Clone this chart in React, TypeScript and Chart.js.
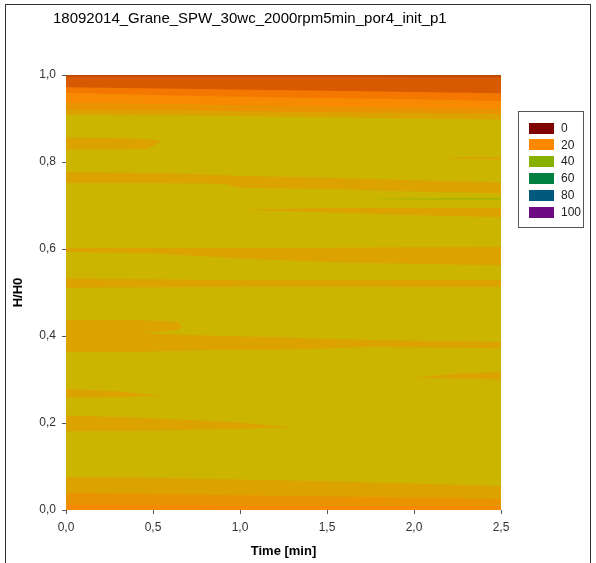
import React, { useEffect, useRef } from 'react';
import { Chart, registerables } from 'chart.js';

Chart.register(...registerables);

// ---------- text ----------
const TITLE = '18092014_Grane_SPW_30wc_2000rpm5min_por4_init_p1';
const X_LABEL = 'Time [min]';
const Y_LABEL = 'H/H0';
const LEGEND_LABELS = ['0', '20', '40', '60', '80', '100'];
const LEGEND_COLORS = ['#800000', '#FF8800', '#88B000', '#008040', '#005A80', '#6E0A82'];

// ---------- colours of the contour levels ----------
const C_BASE = '#CBB500';
const C_AMBER = '#DCA200';
const C_ORANGE3 = '#EA9300';
const C_ORANGE2 = '#F78A00';
const C_ORANGE1 = '#F47800';
const C_DARK = '#D85A00';
const C_TOPLINE = '#C24A00';
const C_GREEN = '#A8B400';

// ---------- axis ranges ----------
const X_MIN = 0;
const X_MAX = 2.5;
const X_STEP = 0.5;
const Y_MIN = 0;
const Y_MAX = 1;
const Y_STEP = 0.2;

// ---------- top layers (filled up to H/H0 = 1) ----------
const TOP_T = [0, 0.75, 1.5, 2.0, 2.5];
const TOP_AMBER = [0.908, 0.907, 0.903, 0.9, 0.897];
const TOP_ORANGE3 = [0.92, 0.918, 0.915, 0.913, 0.911];
const TOP_ORANGE2 = [0.936, 0.933, 0.927, 0.925, 0.922];
const TOP_ORANGE1 = [0.959, 0.952, 0.947, 0.944, 0.94];
const TOP_DARK = [0.972, 0.968, 0.964, 0.961, 0.958];
const TOP_LINE = [0.996, 0.996, 0.996, 0.995, 0.995];

// ---------- bottom layers (filled down to 0) ----------
const BOT_T = [0, 0.5, 1.0, 1.5, 2.0, 2.5];
const BOT_AMBER = [0.076, 0.074, 0.07, 0.066, 0.061, 0.055];
const BOT_ORANGE3 = [0.039, 0.037, 0.034, 0.031, 0.029, 0.026];
const BOT_ORANGE2 = [0.012, 0.011, 0.01, 0.009, 0.009, 0.008];

// ---------- inner bands (lower / upper edge) ----------
const BAND_A_T = [0, 0.3, 0.47, 0.55];
const BAND_A_LO = [0.828, 0.829, 0.83, 0.848];
const BAND_A_HI = [0.856, 0.855, 0.853, 0.848];

const BAND_B_T = [0, 0.5, 0.9, 1.0, 1.5, 2.0, 2.5];
const BAND_B_LO = [0.752, 0.752, 0.75, 0.741, 0.738, 0.732, 0.728];
const BAND_B_HI = [0.777, 0.775, 0.77, 0.768, 0.764, 0.758, 0.753];

const BAND_C_T = [2.15, 2.3, 2.5];
const BAND_C_LO = [0.809, 0.807, 0.806];
const BAND_C_HI = [0.809, 0.811, 0.811];

const BAND_D_T = [1.0, 1.5, 2.0, 2.5];
const BAND_D_LO = [0.691, 0.684, 0.678, 0.673];
const BAND_D_HI = [0.691, 0.694, 0.695, 0.695];

const GREEN_T = [1.7, 2.1, 2.5];
const GREEN_LO = [0.715, 0.713, 0.713];
const GREEN_HI = [0.715, 0.717, 0.718];

const BAND_E_T = [0, 0.5, 1.0, 1.5, 2.0, 2.5];
const BAND_E_LO = [0.593, 0.59, 0.578, 0.57, 0.566, 0.562];
const BAND_E_HI = [0.602, 0.603, 0.603, 0.603, 0.604, 0.605];

const BAND_F_T = [0, 1.0, 2.5];
const BAND_F_LO = [0.511, 0.513, 0.513];
const BAND_F_HI = [0.533, 0.528, 0.529];

const BAND_G1_T = [0, 0.44, 0.64, 0.67];
const BAND_G1_LO = [0.407, 0.407, 0.414, 0.421];
const BAND_G1_HI = [0.437, 0.436, 0.432, 0.421];

const BAND_G2_T = [0, 0.44, 0.8, 1.2, 1.75, 2.5];
const BAND_G2_LO = [0.363, 0.364, 0.368, 0.368, 0.375, 0.372];
const BAND_G2_HI = [0.407, 0.407, 0.401, 0.397, 0.391, 0.386];

const BAND_H_T = [0, 0.3, 0.56];
const BAND_H_LO = [0.258, 0.259, 0.262];
const BAND_H_HI = [0.278, 0.273, 0.262];

const BAND_I_T = [0, 0.5, 1.0, 1.3];
const BAND_I_LO = [0.181, 0.183, 0.186, 0.19];
const BAND_I_HI = [0.217, 0.211, 0.201, 0.19];

const BAND_J_T = [2.0, 2.25, 2.5];
const BAND_J_LO = [0.305, 0.302, 0.3];
const BAND_J_HI = [0.305, 0.313, 0.318];

// ---------- helpers ----------
const pts = (t: number[], v: number[]) => t.map((x, i) => ({ x, y: v[i] }));
const fmt = (v: number) => v.toFixed(1).replace('.', ',');

const hidden = {
  borderWidth: 0,
  borderColor: 'rgba(0,0,0,0)',
  pointRadius: 0,
  pointHoverRadius: 0,
  tension: 0,
};

function buildDatasets() {
  const ds: any[] = [];
  // base level covering the whole area
  ds.push({ ...hidden, data: pts([X_MIN, X_MAX], [Y_MAX, Y_MAX]), fill: 'origin', backgroundColor: C_BASE, order: 100 });

  const tops: [number[], string][] = [
    [TOP_AMBER, C_AMBER],
    [TOP_ORANGE3, C_ORANGE3],
    [TOP_ORANGE2, C_ORANGE2],
    [TOP_ORANGE1, C_ORANGE1],
    [TOP_DARK, C_DARK],
    [TOP_LINE, C_TOPLINE],
  ];
  tops.forEach(([v, c], i) => {
    ds.push({ ...hidden, data: pts(TOP_T, v), fill: { value: Y_MAX }, backgroundColor: c, order: 90 - i });
  });

  const bots: [number[], string][] = [
    [BOT_AMBER, C_AMBER],
    [BOT_ORANGE3, C_ORANGE3],
    [BOT_ORANGE2, C_ORANGE2],
  ];
  bots.forEach(([v, c], i) => {
    ds.push({ ...hidden, data: pts(BOT_T, v), fill: 'origin', backgroundColor: c, order: 70 - i });
  });

  const bands: [number[], number[], number[], string][] = [
    [BAND_A_T, BAND_A_LO, BAND_A_HI, C_AMBER],
    [BAND_B_T, BAND_B_LO, BAND_B_HI, C_AMBER],
    [BAND_C_T, BAND_C_LO, BAND_C_HI, C_AMBER],
    [BAND_D_T, BAND_D_LO, BAND_D_HI, C_AMBER],
    [GREEN_T, GREEN_LO, GREEN_HI, C_GREEN],
    [BAND_E_T, BAND_E_LO, BAND_E_HI, C_AMBER],
    [BAND_F_T, BAND_F_LO, BAND_F_HI, C_AMBER],
    [BAND_G1_T, BAND_G1_LO, BAND_G1_HI, C_AMBER],
    [BAND_G2_T, BAND_G2_LO, BAND_G2_HI, C_AMBER],
    [BAND_H_T, BAND_H_LO, BAND_H_HI, C_AMBER],
    [BAND_I_T, BAND_I_LO, BAND_I_HI, C_AMBER],
    [BAND_J_T, BAND_J_LO, BAND_J_HI, C_AMBER],
  ];
  bands.forEach(([t, lo, hi, c]) => {
    ds.push({ ...hidden, data: pts(t, lo), fill: false, order: 10 });
    ds.push({ ...hidden, data: pts(t, hi), fill: '-1', backgroundColor: c, order: 10 });
  });
  return ds;
}

const decorPlugin = {
  id: 'decor',
  afterDraw(chart: any) {
    const ctx = chart.ctx;
    ctx.save();
    // outer frame
    ctx.strokeStyle = '#333';
    ctx.lineWidth = 1;
    ctx.strokeRect(5.5, 4.5, 585, 620);
    // title
    ctx.fillStyle = '#000';
    ctx.font = '15px "Liberation Sans", Arial, sans-serif';
    ctx.textAlign = 'left';
    ctx.textBaseline = 'middle';
    ctx.fillText(TITLE, 53, 19);
    // legend
    const bx = 518, by = 111, bw = 65, bh = 116;
    ctx.fillStyle = '#fff';
    ctx.fillRect(bx, by, bw, bh);
    ctx.strokeStyle = '#555';
    ctx.strokeRect(bx + 0.5, by + 0.5, bw, bh);
    ctx.font = '12px "Liberation Sans", Arial, sans-serif';
    LEGEND_LABELS.forEach((lab, i) => {
      const cy = 128 + i * 16.8;
      ctx.fillStyle = LEGEND_COLORS[i];
      ctx.fillRect(529, Math.round(cy - 5.5), 25, 11);
      ctx.fillStyle = '#222';
      ctx.fillText(lab, 561, cy + 0.5);
    });
    ctx.restore();
  },
};

export default function App() {
  const ref = useRef<HTMLCanvasElement | null>(null);
  useEffect(() => {
    if (!ref.current) return;
    const chart = new Chart(ref.current, {
      type: 'line',
      data: { datasets: buildDatasets() },
      options: {
        animation: false,
        responsive: true,
        maintainAspectRatio: false,
        events: [],
        layout: { padding: { left: 11, right: 95, top: 75, bottom: 0 } },
        plugins: {
          legend: { display: false },
          title: { display: false },
          tooltip: { enabled: false },
          filler: { propagate: false },
        },
        scales: {
          x: {
            type: 'linear',
            min: X_MIN,
            max: X_MAX,
            afterFit: (s: any) => { s.height = 53; },
            border: { display: false },
            grid: { display: true, drawOnChartArea: false, drawTicks: true, tickLength: 4, color: '#555' },
            ticks: {
              stepSize: X_STEP,
              padding: 6,
              color: '#333',
              font: { family: '"Liberation Sans", Arial, sans-serif', size: 12 },
              maxRotation: 0,
              callback: (v: any) => fmt(Number(v)),
            },
            title: {
              display: true,
              text: X_LABEL,
              color: '#000',
              font: { family: '"Liberation Sans", Arial, sans-serif', size: 13, weight: 'bold' },
              padding: { top: 0, bottom: 4 },
            },
          },
          y: {
            type: 'linear',
            min: Y_MIN,
            max: Y_MAX,
            afterFit: (s: any) => { s.width = 55; },
            border: { display: false },
            grid: { display: true, drawOnChartArea: false, drawTicks: true, tickLength: 4, color: '#555' },
            ticks: {
              stepSize: Y_STEP,
              padding: 6,
              color: '#333',
              font: { family: '"Liberation Sans", Arial, sans-serif', size: 12 },
              callback: (v: any) => fmt(Number(v)),
            },
            title: {
              display: true,
              text: Y_LABEL,
              color: '#000',
              font: { family: '"Liberation Sans", Arial, sans-serif', size: 13, weight: 'bold' },
              padding: { top: 0, bottom: 0 },
            },
          },
        },
      },
      plugins: [decorPlugin],
    } as any);
    return () => chart.destroy();
  }, []);

  return (
    <div style={{ position: 'absolute', left: 0, top: 0, width: 596, height: 563, background: '#fff' }}>
      <canvas ref={ref} />
    </div>
  );
}
